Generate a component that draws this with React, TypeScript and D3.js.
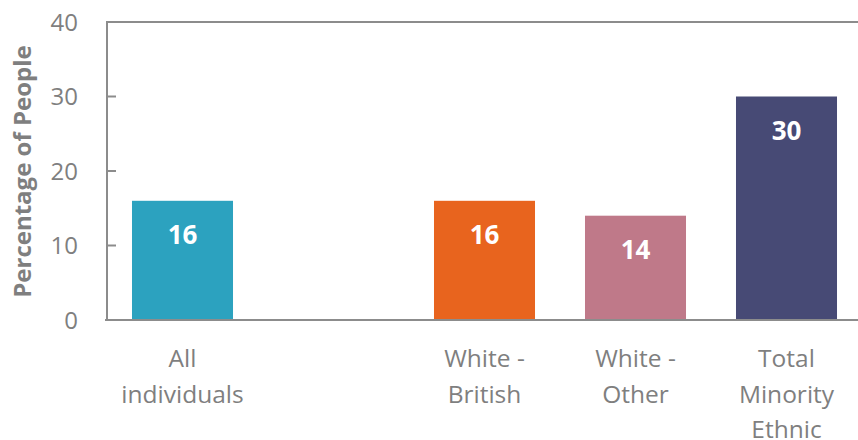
import React from "react";
import * as d3 from "d3";

const categories = ["All individuals", "", "White - British", "White - Other", "Total Minority Ethnic"];
const categoryLines = [["All", "individuals"], [], ["White -", "British"], ["White -", "Other"], ["Total", "Minority", "Ethnic"]];
const values: (number | null)[] = [16, null, 16, 14, 30];
const colors = ["#2ca2bf", "none", "#e8641e", "#bf7989", "#474a75"];
const yTicks = [0, 10, 20, 30, 40];
const yTitle = "Percentage of People";

const W = 858, H = 440;
const left = 107, right = 862, top = 22, bottom = 320;
const FONT = "'Open Sans', sans-serif";
const GRAY = "#7f7f7f";
const AXIS = "#8c8c8c";

export default function App() {
  const x = d3.scaleBand<string>().domain(categories.map((c, i) => String(i))).range([left, right]).paddingInner(0.331).paddingOuter(0.1655);
  const y = d3.scaleLinear().domain([0, 40]).range([bottom, top]);
  return (
    <svg width={W} height={H} style={{ position: "absolute", left: 0, top: 0, background: "#fff" }}>
      {values.map((v, i) => v == null ? null : (
        <g key={i}>
          <rect x={x(String(i))} y={y(v)} width={x.bandwidth()} height={y(0) - y(v)} fill={colors[i]} />
          <text x={(x(String(i)) as number) + x.bandwidth() / 2} y={y(v) + 43} textAnchor="middle" fill="#fff" fontFamily={FONT} fontWeight="bold" fontSize={26}>{v}</text>
        </g>
      ))}
      <line x1={left} x2={W} y1={y(40)} y2={y(40)} stroke={AXIS} strokeWidth={2} />
      <line x1={left} x2={left} y1={y(40) - 1} y2={y(0) + 1} stroke={AXIS} strokeWidth={2} />
      <line x1={left - 2} x2={W} y1={y(0)} y2={y(0)} stroke={AXIS} strokeWidth={2} />
      {yTicks.map(t => (
        <g key={t}>
          {t > 0 && t < 40 ? <line x1={left} x2={left + 9} y1={y(t)} y2={y(t)} stroke={AXIS} strokeWidth={2} /> : null}
          <text x={78} y={y(t) + 8.5} textAnchor="end" fill={GRAY} fontFamily={FONT} fontSize={24}>{t}</text>
        </g>
      ))}
      {categoryLines.map((lines, i) => (
        <text key={i} textAnchor="middle" fill={GRAY} fontFamily={FONT} fontSize={24.5}>
          {lines.map((l, j) => (
            <tspan key={j} x={(x(String(i)) as number) + x.bandwidth() / 2} y={367 + j * 35.5}>{l}</tspan>
          ))}
        </text>
      ))}
      <text transform={`translate(31,171.5) rotate(-90)`} textAnchor="middle" fill={GRAY} fontFamily={FONT} fontWeight="bold" fontSize={24}>{yTitle}</text>
    </svg>
  );
}
